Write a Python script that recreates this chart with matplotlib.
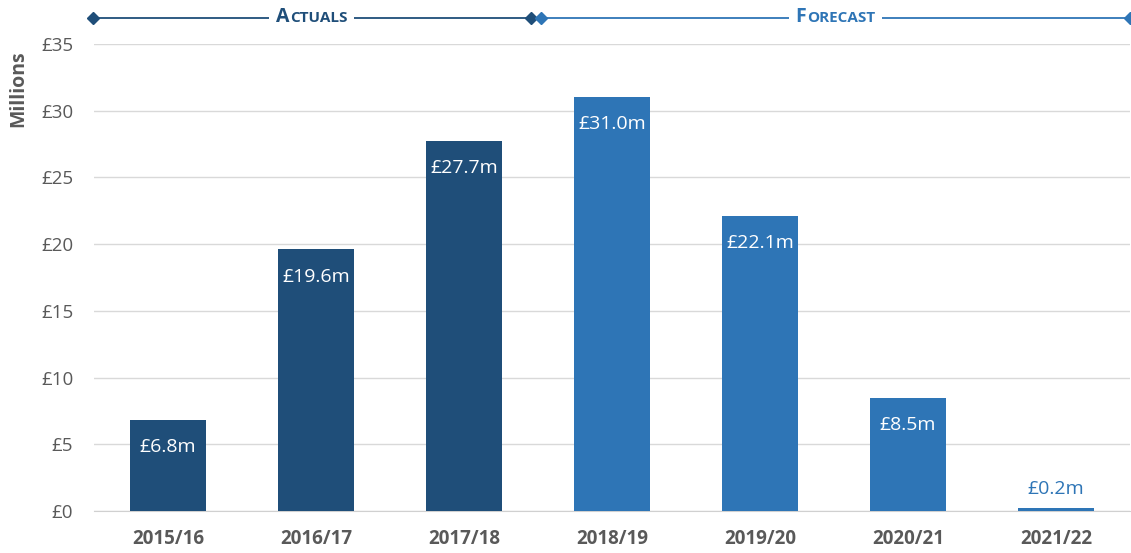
import matplotlib
matplotlib.use("Agg")
import matplotlib.pyplot as plt
import matplotlib.transforms as mtrans
from matplotlib.offsetbox import TextArea, HPacker, AnnotationBbox
from matplotlib.lines import Line2D

categories = ["2015/16", "2016/17", "2017/18", "2018/19", "2019/20", "2020/21", "2021/22"]
values = [6.8, 19.6, 27.7, 31.0, 22.1, 8.5, 0.2]
is_actual = [True, True, True, False, False, False, False]
yticks = [0, 5, 10, 15, 20, 25, 30, 35]

DARK = "#1F4E79"
LIGHT = "#2E75B6"
GRAY = "#595959"
FONT = ["Open Sans", "DejaVu Sans"]
plt.rcParams["font.family"] = FONT

fig = plt.figure(figsize=(11.31, 5.53), dpi=100)
ax = fig.add_axes([94/1131, 42/553, 1036/1131, (511-44)/553])

x = list(range(len(categories)))
colors = [DARK if a else LIGHT for a in is_actual]
ax.bar(x, values, width=0.51, color=colors, zorder=3)

ax.set_xlim(-0.5, len(categories) - 0.5)
ax.set_ylim(0, 35)
ax.set_yticks(yticks)
ax.set_yticklabels([f"£{v}" for v in yticks], fontsize=13.5, color=GRAY)
ax.set_xticks(x)
ax.set_xticklabels(categories, fontsize=13.5, color=GRAY, fontweight="bold")
ax.tick_params(axis="both", length=0)
ax.tick_params(axis="x", pad=13)
ax.tick_params(axis="y", pad=15)
for s in ["top", "right", "left"]:
    ax.spines[s].set_visible(False)
ax.spines["bottom"].set_color("#D0D0D0")
ax.grid(axis="y", color="#D9D9D9", linewidth=1, zorder=0)
ax.set_axisbelow(True)

fig.text(18/1131, 1 - 89/553, "Millions", rotation=90, ha="center", va="center",
         fontsize=14, fontweight="bold", color=GRAY)

for xi, v in zip(x, values):
    if v > 3:
        ax.annotate(f"£{v:.1f}m", (xi, v), xytext=(0, -19.5), textcoords="offset points",
                    ha="center", va="center", color="white", fontsize=14)
    else:
        ax.annotate(f"£{v:.1f}m", (xi, v), xytext=(0, 14), textcoords="offset points",
                    ha="center", va="center", color=LIGHT, fontsize=14)

# Header bands
trans = mtrans.blended_transform_factory(ax.transData, fig.transFigure)
yh = 1 - 18/553

def band(x0, x1, color, label):
    fig.add_artist(Line2D([x0, x1], [yh, yh], transform=trans, color=color,
                          linewidth=1.3, clip_on=False, zorder=3))
    fig.add_artist(Line2D([x0, x1], [yh, yh], transform=trans, marker="D", markersize=6,
                          color=color, clip_on=False, linestyle="none", zorder=4))
    big = TextArea(label[0].upper(), textprops=dict(fontsize=14, fontweight="bold", color=color, family=FONT))
    small = TextArea(label[1:].upper(), textprops=dict(fontsize=11, fontweight="bold", color=color, family=FONT))
    pack = HPacker(children=[big, small], align="baseline", pad=0, sep=0.5)
    ab = AnnotationBbox(pack, ((x0 + x1) / 2, yh), xycoords=trans, frameon=True,
                        box_alignment=(0.5, 0.45), pad=0.5,
                        bboxprops=dict(facecolor="white", edgecolor="none"))
    ab.set_zorder(5)
    ab.set_clip_on(False)
    fig.add_artist(ab)

band(-0.51, 2.45, DARK, "Actuals")
band(2.52, 6.5, LIGHT, "Forecast")

fig.savefig("out.png", dpi=100)
